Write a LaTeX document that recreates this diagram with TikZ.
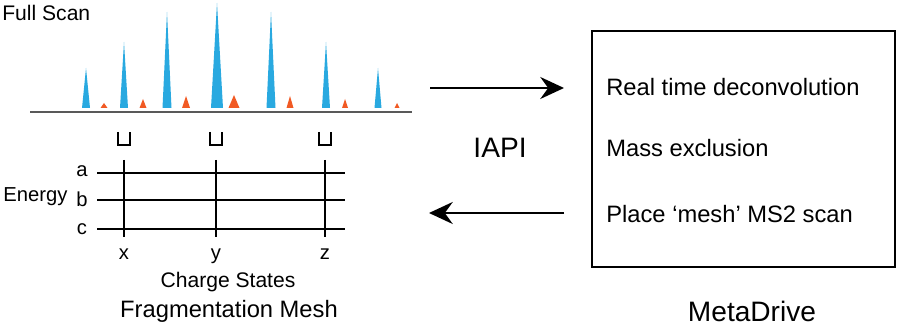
\documentclass[tikz,border=0pt]{standalone}
\usepackage{fontspec}
\setmainfont{Liberation Sans}
\usetikzlibrary{arrows.meta}

\definecolor{peakblue}{HTML}{29A9E0}
\definecolor{peakred}{HTML}{F15A24}

\tikzset{
  mesh/.style={line width=1.3pt},
  flow/.style={line width=1.4pt,-{Stealth[length=13.5pt,width=12.5pt,inset=4.5pt]}},
  lbl/.style={inner sep=0pt,anchor=base,font=\fontsize{12}{14}\selectfont},
  biglbl/.style={lbl,font=\fontsize{16}{19}\selectfont},
  steplbl/.style={lbl,anchor=base west,font=\fontsize{13.5}{16}\selectfont},
}

\begin{document}
\begin{tikzpicture}[x=0.02cm,y=-0.02cm]
\useasboundingbox (0,0) rectangle (899,327);

% full scan
\node[lbl,anchor=base west] (full) at (2,21) {Full Scan};
\draw[black!65,line width=1.1pt] (30,112) -- (412,112);
\foreach \x/\t/\w in {86/68/8,124/42/8,167/12/9,217/3/12,271/12/9,326/42/8,378/68/7}
  \fill[peakblue] ({\x-\w/2},108) -- (\x,\t) -- ({\x+\w/2},108) -- cycle;
\foreach \x/\t/\w in {104/103/7,143/99/7,186/96/8,234/95/11,290/96/7,345/99/6,397/103/5}
  \fill[peakred] ({\x-\w/2},108) -- (\x,\t) -- ({\x+\w/2},108) -- cycle;

% fragmentation mesh
\foreach \y/\l/\b in {173/a/177,200/b/207,229/c/235} {
  \draw[mesh] (97,\y) -- (345,\y);
  \node[lbl,font=\fontsize{11.5}{14}\selectfont] (e\l) at (82,\b) {\l};
}
\foreach \x/\l in {124/x,216/y,325/z} {
  \draw[mesh] (\x,160) -- (\x,237);
  \draw[line width=1.3pt] ({\x-6},132) -- ({\x-6},145) -- ({\x+6},145) -- ({\x+6},132);
  \node[lbl,font=\fontsize{11.5}{14}\selectfont] (q\l) at (\x,260) {\l};
}
\node[lbl,anchor=base west,font=\fontsize{11.5}{14}\selectfont] (energy) at (3,202) {Energy};
\node[lbl] (charge) at (228,288) {Charge States};
\node[lbl,font=\fontsize{13.5}{16}\selectfont] (meshname) at (229,318) {Fragmentation Mesh};

% metadrive
\draw[line width=1.3pt] (592,31) rectangle (895,267);
\node[steplbl] (deconv) at (606,96) {Real time deconvolution};
\node[steplbl] (excl) at (606,157) {Mass exclusion};
\node[steplbl] (place) at (606,223) {Place ‘mesh’ MS2 scan};
\node[biglbl] (meta) at (752,322) {MetaDrive};

% api link
\node[biglbl] (iapi) at (500,158) {IAPI};
\coordinate (outA) at (430,88);
\coordinate (inA) at (564,88);
\coordinate (outB) at (564,213);
\coordinate (inB) at (429,213);
\draw[flow] (outA) -- (inA);
\draw[flow] (outB) -- (inB);
\end{tikzpicture}
\end{document}
